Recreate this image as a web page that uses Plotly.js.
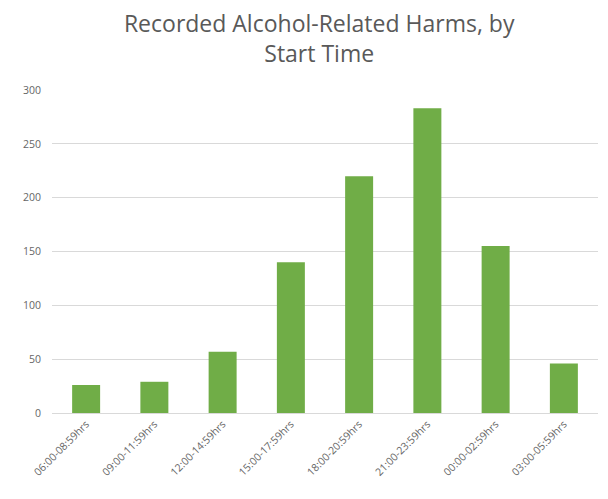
<!DOCTYPE html>
<html>
<head>
<meta charset="utf-8">
<script src="https://cdn.plot.ly/plotly-3.0.1.min.js"></script>
<style>html,body{margin:0;padding:0;background:#fff;}#chart{width:608px;height:499px;}</style>
</head>
<body>
<div id="chart"></div>
<script>
const categories = ["06:00-08:59hrs","09:00-11:59hrs","12:00-14:59hrs","15:00-17:59hrs","18:00-20:59hrs","21:00-23:59hrs","00:00-02:59hrs","03:00-05:59hrs"];
const harms = [26, 29, 57, 140, 220, 283, 155, 46];
const yTicks = [0, 50, 100, 150, 200, 250, 300];

const trace = {
  type: 'bar',
  x: categories,
  y: harms,
  marker: {color: '#70AD47'},
  hoverinfo: 'x+y'
};

const layout = {
  width: 608, height: 499,
  margin: {l: 52, r: 10, t: 90, b: 86},
  paper_bgcolor: '#fff', plot_bgcolor: '#fff',
  bargap: 0.59,
  showlegend: false,
  title: {
    text: 'Recorded Alcohol-Related Harms, by<br>Start Time',
    font: {family: 'Open Sans, sans-serif', size: 23, color: '#595959'},
    x: 0.525, xanchor: 'center', yref: 'container', y: 0.935, yanchor: 'middle'
  },
  xaxis: {
    type: 'category',
    tickangle: -45,
    tickfont: {family: 'Open Sans, sans-serif', size: 10.5, color: '#666666'},
    showgrid: false,
    showline: true, linecolor: '#d9d9d9', linewidth: 1,
    ticks: '', automargin: false
  },
  yaxis: {
    range: [0, 300],
    tickvals: yTicks,
    tickfont: {family: 'Open Sans, sans-serif', size: 10.5, color: '#666666'},
    gridcolor: '#d9d9d9', gridwidth: 1,
    zeroline: false, showline: false,
    ticks: '', ticklen: 0, ticklabelstandoff: 10, automargin: false
  }
};

Plotly.newPlot('chart', [trace], layout, {displayModeBar: false, staticPlot: true});
</script>
</body>
</html>
